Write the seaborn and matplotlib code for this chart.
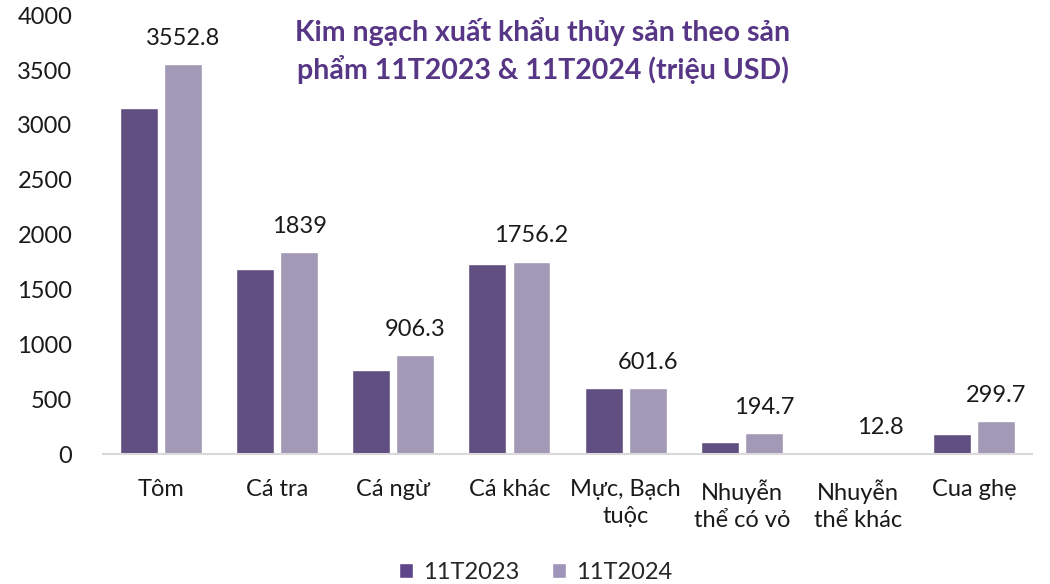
import numpy as np
import pandas as pd
import seaborn as sns
import matplotlib.pyplot as plt
from matplotlib.patches import Patch

# Values in million USD
categories = ["Tôm", "Cá tra", "Cá ngừ", "Cá khác", "Mực, Bạch\ntuộc",
              "Nhuyễn\nthể có vỏ", "Nhuyễn\nthể khác", "Cua ghẹ"]
values_2023 = [3155, 1685, 770, 1737, 600, 112, 2, 182]
values_2024 = [3552.8, 1839, 906.3, 1756.2, 601.6, 194.7, 12.8, 299.7]
series = ["11T2023", "11T2024"]

df = pd.DataFrame({
    "category": categories * 2,
    "value": values_2023 + values_2024,
    "series": [series[0]] * len(categories) + [series[1]] * len(categories),
})

sns.set_theme(style="white")
plt.rcParams["font.family"] = ["Lato", "DejaVu Sans"]

colors = ["#5e4788", "#9f94ba"]

fig = plt.figure(figsize=(10.5, 5.84), dpi=100)
ax = fig.add_axes([0.098, 0.222, 0.885, 0.752])

sns.barplot(data=df, x="category", y="value", hue="series", palette=colors,
            width=0.76, gap=0.14, ax=ax, legend=False)

# labels only on the 2024 bars
ax.bar_label(ax.containers[1], labels=[f"{v:g}" for v in values_2024],
             padding=11, fontsize=17, color="#1a1a1a")

ax.set_ylim(0, 4000)
ax.set_xlim(-0.5, len(categories) - 0.5)
ax.set_yticks(range(0, 4001, 500))
ax.set_xlabel("")
ax.set_ylabel("")
ax.tick_params(axis="y", labelsize=17, colors="#1a1a1a", length=0, pad=22)
ax.tick_params(axis="x", labelsize=17, colors="#1a1a1a", length=0, pad=18)
for lbl in ax.get_xticklabels():
    lbl.set_linespacing(1.35)
for side in ["top", "right", "left"]:
    ax.spines[side].set_visible(False)
ax.spines["bottom"].set_color("#d9d9d9")
ax.spines["bottom"].set_linewidth(1.5)

fig.text(0.517, 0.914, "Kim ngạch xuất khẩu thủy sản theo sản\nphẩm 11T2023 & 11T2024 (triệu USD)",
         ha="center", va="center", fontsize=20.5, fontweight="bold",
         color="#573686", linespacing=1.38)

handles = [Patch(facecolor=c, label=s) for c, s in zip(colors, series)]
fig.legend(handles=handles, loc="center", bbox_to_anchor=(0.51, 0.02),
           ncol=2, frameon=False, fontsize=17, handlelength=0.6,
           handleheight=0.6, handletextpad=0.4, columnspacing=1.4)

fig.savefig("out.png", dpi=100)
